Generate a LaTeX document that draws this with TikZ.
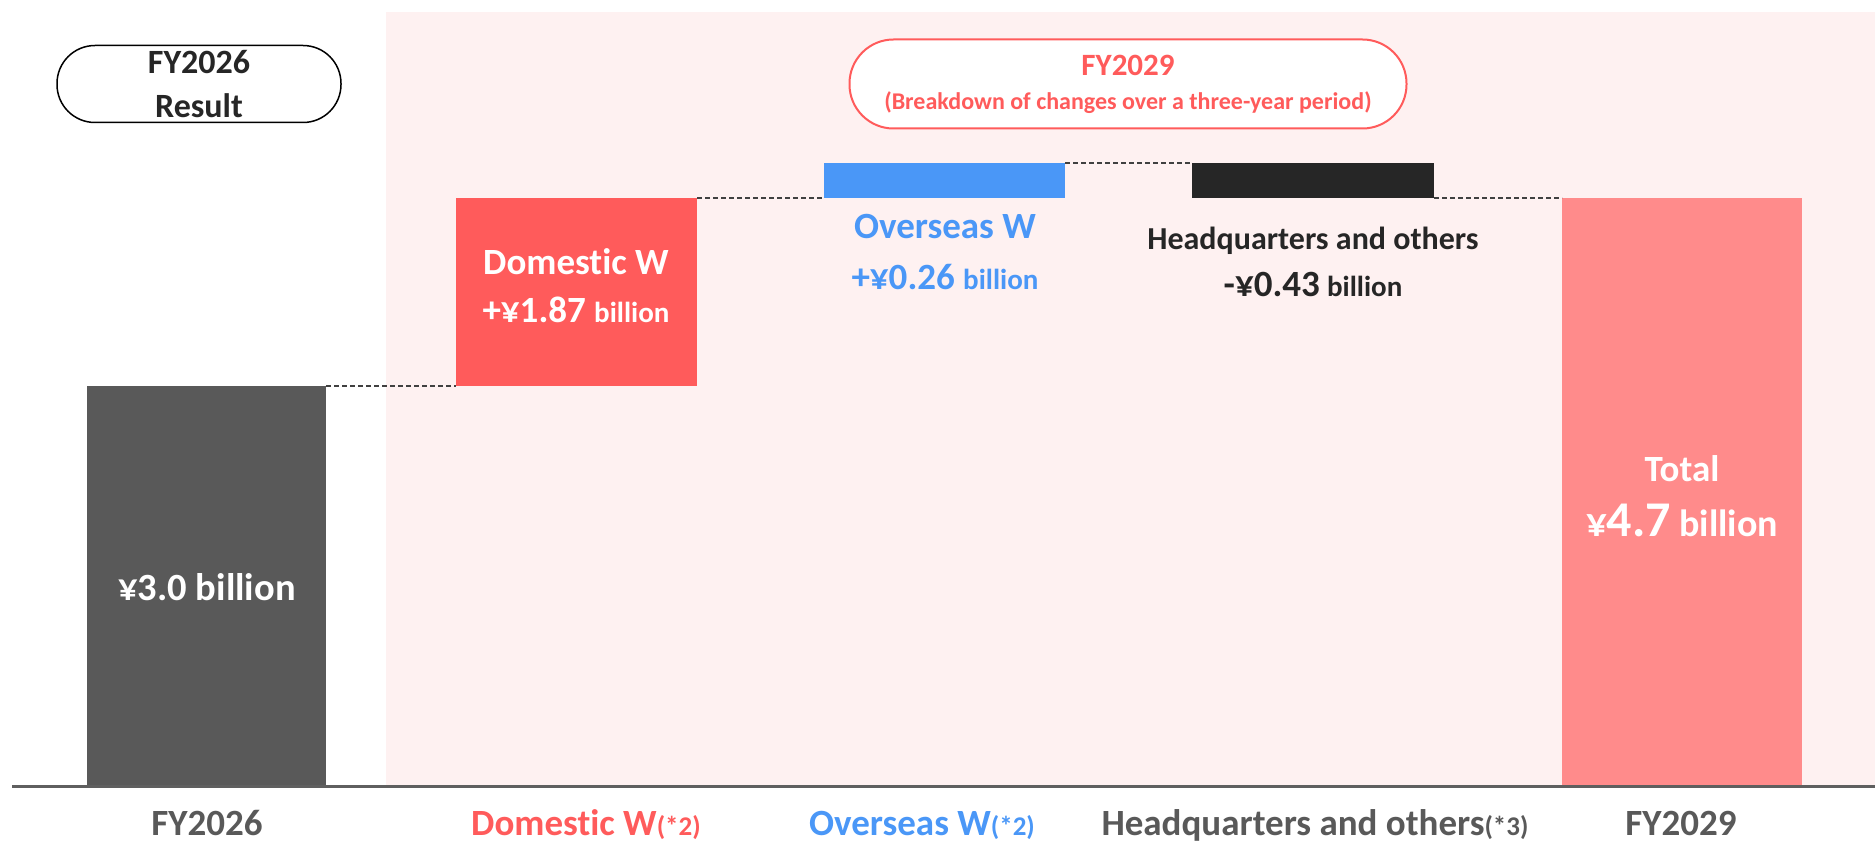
\documentclass[tikz,border=0pt]{standalone}
\usepackage{fontspec}
\setmainfont[Ligatures=NoCommon]{Carlito}
\definecolor{bgpink}{HTML}{FEF1F1}
\definecolor{domred}{HTML}{FF5B5B}
\definecolor{ovblue}{HTML}{4A97F7}
\definecolor{hqblack}{HTML}{262626}
\definecolor{totpink}{HTML}{FF8B8B}
\definecolor{basegray}{HTML}{595959}
\definecolor{axisgray}{HTML}{5F5F5F}
\definecolor{linkgray}{HTML}{404040}
% size with line distance
\newcommand{\fss}[2]{\fontsize{#1}{#2}\selectfont}
% size only, inside a line
\newcommand{\fs}[1]{\fontsize{#1}{#1}\selectfont}
\tikzset{
  bar/.style={anchor=north west, inner sep=0pt, outer sep=0pt, draw=none},
  dashlink/.style={draw=linkgray, line width=1.4pt, dash pattern=on 5pt off 3pt},
  pill/.style={draw, fill=white, inner sep=0pt, align=center},
  lbl/.style={align=center, inner sep=0pt},
  axlbl/.style={font=\bfseries\fs{37}, inner sep=0pt, anchor=base}
}
\begin{document}
\begin{tikzpicture}[x=1pt,y=-1pt]
\useasboundingbox (0,0) rectangle (1875,842);
% shaded three-year period
\fill[bgpink] (386,12) rectangle (1875,786);

% bars
\node[bar, fill=basegray, minimum width=239pt, minimum height=400pt] (base) at (87,386) {};
\node[bar, fill=domred, minimum width=241pt, minimum height=188pt] (dom) at (456,198) {};
\node[bar, fill=ovblue, minimum width=241pt, minimum height=35pt] (ovs) at (824,163) {};
\node[bar, fill=hqblack, minimum width=242pt, minimum height=35pt] (hq) at (1192,163) {};
\node[bar, fill=totpink, minimum width=240pt, minimum height=588pt] (tot) at (1562,198) {};

% step connectors
\draw[dashlink] (base.north east) -- (dom.north west |- base.north east);
\draw[dashlink] (dom.north east) -- (ovs.south west);
\draw[dashlink] (ovs.north east) -- (hq.north west);
\draw[dashlink] (hq.south east) -- (tot.north west);

% axis
\coordinate (axl) at (12,786);
\coordinate (axr) at (1875,786);
\draw[axisgray, line width=3pt] (axl) -- (axr);

% headers
\node[pill, draw=black, line width=1.5pt, rounded corners=38pt, minimum width=284pt, minimum height=77pt,
      text=hqblack, font=\bfseries\fss{34}{44}] (hdrA) at (199,84)
  {FY2026\\Result};
\node[pill, draw=domred, line width=2pt, rounded corners=44pt, minimum width=557pt, minimum height=89pt,
      text=domred, font=\bfseries\fss{24}{34}] (hdrB) at (1128,84)
  {{\fs{31}FY2029}\\(Breakdown of changes over a three-year period)};

% bar labels
\node[lbl, text=white, font=\bfseries\fs{38.5}] (baselbl) at (207,587) {¥3.0 billion};
\node[lbl, text=white, font=\bfseries\fss{37}{48}] (domlbl) at (576,286)
  {Domestic W\\+¥1.87 {\fs{29}billion}};
\node[lbl, text=ovblue, font=\bfseries\fss{37}{51}] (ovslbl) at (945,252)
  {Overseas W\\+¥0.26 {\fs{29}billion}};
\node[lbl, text=hqblack, font=\bfseries\fss{32}{47}] (hqlbl) at (1313,262)
  {Headquarters and others\\{\fs{37}-¥0.43} {\fs{29}billion}};
\node[lbl, text=white, font=\bfseries\fss{37}{55}] (totlbl) at (1682,496)
  {Total\\{\fs{41}¥}{\fs{50}4.7} {\fs{38}billion}};

% category labels
\node[axlbl, text=basegray] (catA) at (207,835) {FY2026};
\node[axlbl, text=domred] (catB) at (586,835) {Domestic W{\fs{27}(*2)}};
\node[axlbl, text=ovblue] (catC) at (922,835) {Overseas W{\fs{27}(*2)}};
\node[axlbl, text=basegray] (catD) at (1315,835) {Headquarters and others{\fs{27}(*3)}};
\node[axlbl, text=basegray] (catE) at (1681,835) {FY2029};
\end{tikzpicture}
\end{document}
